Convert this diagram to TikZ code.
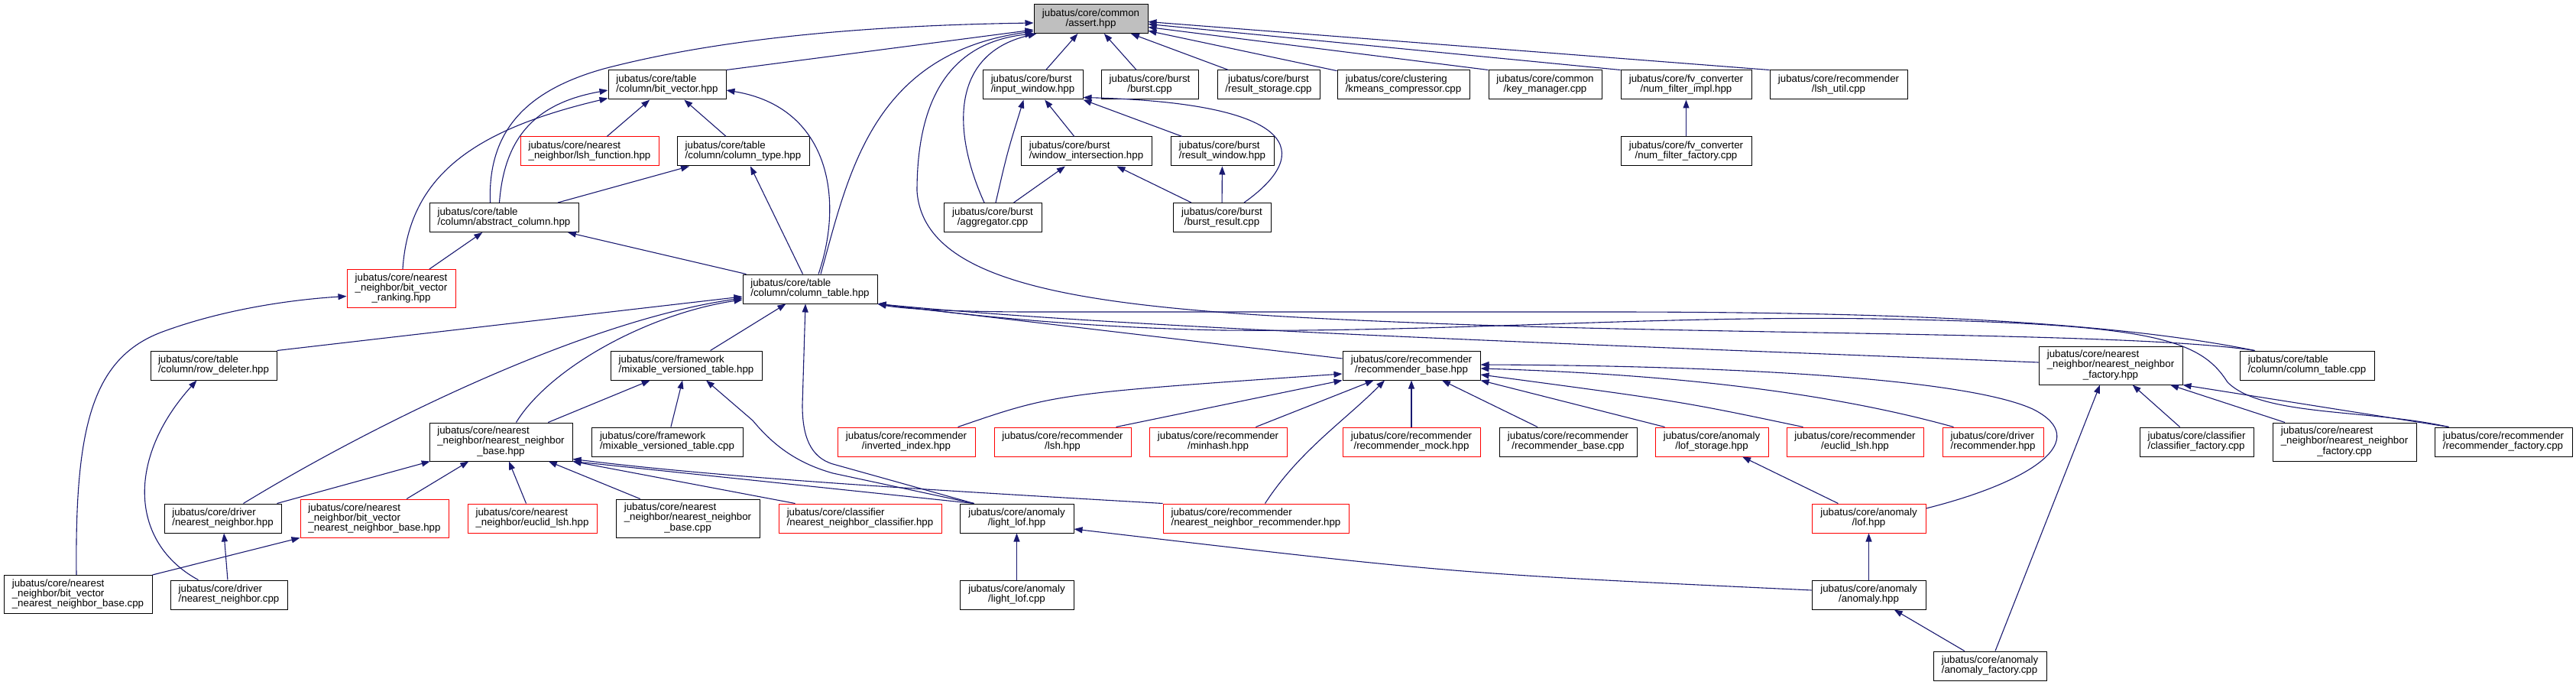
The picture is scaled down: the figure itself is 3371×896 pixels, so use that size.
\documentclass[tikz,border=0pt]{standalone}
\usepackage{fontspec}
\setmainfont{Liberation Sans}
\usetikzlibrary{arrows.meta}
\definecolor{edgeblue}{HTML}{191970}
\definecolor{boxgray}{HTML}{BFBFBF}
\newcommand{\lbltc}[3]{\begin{tabular}{@{}l@{}}#1\\#2\\\multicolumn{1}{@{}c@{}}{#3}\end{tabular}}

\begin{document}
\begin{tikzpicture}[x=1pt, y=-1pt,
  doc/.style={draw=black, line width=1pt, minimum height=38, inner xsep=3, inner ysep=2,
    font=\fontsize{13.3}{13}\selectfont, align=left},
  docred/.style={doc, draw=red},
  mid/.style={align=center},
  tall/.style={minimum height=50},
  dep/.style={draw=edgeblue, line width=1.1pt, -{Triangle[length=11pt,width=8pt]}}]
  \useasboundingbox (0,0) rectangle (3371,896);

  % files
  \node[doc, mid, fill=boxgray, minimum width=149] (assert) at (1427.5,24.5) {jubatus/core/common\\/assert.hpp};

  \node[doc, minimum width=154] (bitvec) at (873,111) {jubatus/core/table\\/column/bit\_vector.hpp};
  \node[doc, minimum width=131] (inwin) at (1351.5,111) {jubatus/core/burst\\/input\_window.hpp};
  \node[doc, mid, minimum width=127] (burstcpp) at (1504.5,111) {jubatus/core/burst\\/burst.cpp};
  \node[doc, mid, minimum width=134] (resstore) at (1660,111) {jubatus/core/burst\\/result\_storage.cpp};
  \node[doc, minimum width=173] (kmeans) at (1836.5,111) {jubatus/core/clustering\\/kmeans\_compressor.cpp};
  \node[doc, mid, minimum width=148] (keymgr) at (2022,111) {jubatus/core/common\\/key\_manager.cpp};
  \node[doc, mid, minimum width=171] (nfimpl) at (2206.5,111) {jubatus/core/fv\_converter\\/num\_filter\_impl.hpp};
  \node[doc, mid, minimum width=180] (lshutil) at (2406,111) {jubatus/core/recommender\\/lsh\_util.cpp};

  \node[docred, minimum width=181] (lshfunc) at (771.5,198) {jubatus/core/nearest\\\_neighbor/lsh\_function.hpp};
  \node[doc, minimum width=173] (coltype) at (972.5,198) {jubatus/core/table\\/column/column\_type.hpp};
  \node[doc, minimum width=171] (winint) at (1421.5,198) {jubatus/core/burst\\/window\_intersection.hpp};
  \node[doc, minimum width=135] (reswin) at (1599.5,198) {jubatus/core/burst\\/result\_window.hpp};
  \node[doc, mid, minimum width=171] (nffact) at (2206.5,198) {jubatus/core/fv\_converter\\/num\_filter\_factory.cpp};

  \node[doc, minimum width=195] (abscol) at (659.5,284.5) {jubatus/core/table\\/column/abstract\_column.hpp};
  \node[doc, mid, minimum width=128] (aggr) at (1299,284.5) {jubatus/core/burst\\/aggregator.cpp};
  \node[doc, mid, minimum width=128] (burstres) at (1599,284.5) {jubatus/core/burst\\/burst\_result.cpp};

  \node[docred, mid, tall, minimum width=142] (ranking) at (525,377.5) {jubatus/core/nearest\\\_neighbor/bit\_vector\\\_ranking.hpp};
  \node[doc, minimum width=176] (coltab) at (1060,378) {jubatus/core/table\\/column/column\_table.hpp};

  \node[doc, minimum width=165] (rowdel) at (279.5,478) {jubatus/core/table\\/column/row\_deleter.hpp};
  \node[doc, minimum width=198] (mvthpp) at (898,478) {jubatus/core/framework\\/mixable\_versioned\_table.hpp};
  \node[doc, mid, minimum width=180] (recbasehpp) at (1847,478) {jubatus/core/recommender\\/recommender\_base.hpp};
  \node[doc, tall, minimum width=188] (nnfacthpp) at (2762,478) {\lbltc{jubatus/core/nearest}{\_neighbor/nearest\_neighbor}{\_factory.hpp}};
  \node[doc, minimum width=176] (coltabcpp) at (3019,478) {jubatus/core/table\\/column/column\_table.cpp};

  \node[doc, tall, minimum width=187] (nnbasehpp) at (655.5,578) {\lbltc{jubatus/core/nearest}{\_neighbor/nearest\_neighbor}{\_base.hpp}};
  \node[doc, minimum width=198] (mvtcpp) at (873,578) {jubatus/core/framework\\/mixable\_versioned\_table.cpp};
  \node[docred, mid, minimum width=180] (invidx) at (1186,578) {jubatus/core/recommender\\/inverted\_index.hpp};
  \node[docred, mid, minimum width=179] (reclsh) at (1390.5,578) {jubatus/core/recommender\\/lsh.hpp};
  \node[docred, mid, minimum width=180] (minhash) at (1594,578) {jubatus/core/recommender\\/minhash.hpp};
  \node[docred, mid, minimum width=180] (recmock) at (1847,578) {jubatus/core/recommender\\/recommender\_mock.hpp};
  \node[doc, mid, minimum width=180] (recbasecpp) at (2052,578) {jubatus/core/recommender\\/recommender\_base.cpp};
  \node[docred, mid, minimum width=148] (lofstore) at (2240,578) {jubatus/core/anomaly\\/lof\_storage.hpp};
  \node[docred, mid, minimum width=179] (receuclid) at (2427.5,578) {jubatus/core/recommender\\/euclid\_lsh.hpp};
  \node[docred, minimum width=132] (drvrec) at (2608,578) {jubatus/core/driver\\/recommender.hpp};
  \node[doc, minimum width=149] (clsfact) at (2874.5,578) {jubatus/core/classifier\\/classifier\_factory.cpp};
  \node[doc, tall, minimum width=188] (nnfactcpp) at (3068,578) {\lbltc{jubatus/core/nearest}{\_neighbor/nearest\_neighbor}{\_factory.cpp}};
  \node[doc, minimum width=180] (recfact) at (3276,578) {jubatus/core/recommender\\/recommender\_factory.cpp};

  \node[doc, minimum width=153] (drvnnhpp) at (291.5,678) {jubatus/core/driver\\/nearest\_neighbor.hpp};
  \node[docred, tall, minimum width=194] (bvnnhpp) at (490,678) {jubatus/core/nearest\\\_neighbor/bit\_vector\\\_nearest\_neighbor\_base.hpp};
  \node[docred, minimum width=169] (nneuclid) at (696.5,678) {jubatus/core/nearest\\\_neighbor/euclid\_lsh.hpp};
  \node[doc, tall, minimum width=188] (nnbasecpp) at (900,678) {\lbltc{jubatus/core/nearest}{\_neighbor/nearest\_neighbor}{\_base.cpp}};
  \node[docred, minimum width=213] (nnclass) at (1125.5,678) {jubatus/core/classifier\\/nearest\_neighbor\_classifier.hpp};
  \node[doc, mid, minimum width=149] (lightlofhpp) at (1330.5,678) {jubatus/core/anomaly\\/light\_lof.hpp};
  \node[docred, minimum width=243] (nnrec) at (1643.5,678) {jubatus/core/recommender\\/nearest\_neighbor\_recommender.hpp};
  \node[docred, mid, minimum width=149] (lofhpp) at (2445.5,678) {jubatus/core/anomaly\\/lof.hpp};

  \node[doc, tall, minimum width=194] (bvnncpp) at (102,777.5) {jubatus/core/nearest\\\_neighbor/bit\_vector\\\_nearest\_neighbor\_base.cpp};
  \node[doc, minimum width=153] (drvnncpp) at (299.5,778) {jubatus/core/driver\\/nearest\_neighbor.cpp};
  \node[doc, mid, minimum width=149] (lightlofcpp) at (1330.5,778) {jubatus/core/anomaly\\/light\_lof.cpp};
  \node[doc, mid, minimum width=149] (anomhpp) at (2445.5,778) {jubatus/core/anomaly\\/anomaly.hpp};

  \node[doc, minimum width=148] (anomfact) at (2604,871) {jubatus/core/anomaly\\/anomaly\_factory.cpp};

  % includes of assert.hpp
  \draw[dep] (bitvec.north east) -- ([yshift=5]assert.south west);
  \draw[dep] ([xshift=-18]abscol.north) .. controls (638,170) and (690,118) .. (790,90) .. controls (950,48) and (1150,33) .. ([yshift=14]assert.south west);
  \draw[dep] ([xshift=14]coltab.north) .. controls (1110,230) and (1140,70) .. ([yshift=3]assert.south west);
  \draw[dep] ([xshift=20]coltabcpp.north west) .. controls (2800,435) and (2300,438) .. (1900,424) .. controls (1480,408) and (1210,390) .. (1200,250) .. controls (1200,120) and (1250,55) .. (assert.south west);
  \draw[dep] ([xshift=-11]aggr.north) .. controls (1245,170) and (1245,70) .. ([xshift=4]assert.south west);
  \draw[dep] (inwin) -- (assert);
  \draw[dep] (burstcpp) -- (assert);
  \draw[dep] (resstore) -- (assert);
  \draw[dep] (kmeans) -- (assert);
  \draw[dep] (keymgr.north west) -- ([yshift=-11]assert.east);
  \draw[dep] (nfimpl.north west) -- ([yshift=-7]assert.east);
  \draw[dep] (lshutil.north west) -- ([yshift=-4]assert.east);

  % burst
  \draw[dep] (winint) -- (inwin);
  \draw[dep] (reswin) -- (inwin.south east);
  \draw[dep] ([xshift=29]burstres.north) .. controls (1720,200) and (1700,135) .. ([yshift=3]inwin.south east);
  \draw[dep] (burstres) -- (winint);
  \draw[dep] (burstres) -- (reswin);
  \draw[dep] ([xshift=4]aggr.north) .. controls (1318,200) .. ([xshift=-12]inwin.south);
  \draw[dep] (aggr) -- (winint);
  \draw[dep] (nffact) -- (nfimpl);

  % table columns
  \draw[dep] (lshfunc) -- (bitvec);
  \draw[dep] (coltype) -- (bitvec);
  \draw[dep] ([xshift=-6]abscol.north) .. controls (660,180) and (700,135) .. ([yshift=-7]bitvec.west);
  \draw[dep] ([xshift=2]ranking.north) .. controls (535,230) and (620,170) .. ([yshift=2]bitvec.south west);
  \draw[dep] (abscol) -- (coltype);
  \draw[dep] (coltab) -- (coltype);
  \draw[dep] ([xshift=11]coltab.north) .. controls (1105,260) and (1085,140) .. ([yshift=-7]bitvec.east);
  \draw[dep] (coltab) -- (abscol);
  \draw[dep] (ranking) -- (abscol);
  \draw[dep] ([xshift=-2]bvnncpp.north) .. controls (98,560) and (120,470) .. (210,435) .. controls (290,405) and (380,392) .. ([yshift=-10]ranking.west);

  % column_table.hpp
  \draw[dep] (rowdel.north east) -- ([yshift=-10]coltab.west);
  \draw[dep] ([xshift=27]drvnnhpp.north) .. controls (480,560) and (760,420) .. ([yshift=-12]coltab.west);
  \draw[dep] ([xshift=20]nnbasehpp.north) .. controls (720,480) and (850,410) .. ([yshift=-14]coltab.west);
  \draw[dep] (mvthpp) -- (coltab);
  \draw[dep] ([xshift=19]lightlofhpp.north west) -- (1090,607) .. controls (1060,598) and (1050,570) .. (1050,530) -- ([xshift=-6]coltab.south);
  \draw[dep] ([yshift=9]recbasehpp.west) -- (coltab.south east);
  \draw[dep] ([yshift=4]nnfacthpp.west) .. controls (2200,455) and (1500,432) .. (coltab.south east);
  \draw[dep] ([xshift=20]coltabcpp.north west) .. controls (2750,418) and (2450,408) .. (2100,408) -- (1350,408) .. controls (1250,408) and (1180,404) .. (coltab.south east);
  \draw[dep] ([xshift=19]recfact.north west) .. controls (3100,535) and (2960,545) .. (2915,500) .. controls (2880,445) and (2820,425) .. (2500,418) .. controls (2200,410) and (1900,435) .. (1600,432) .. controls (1400,428) and (1250,410) .. (coltab.south east);

  % nearest_neighbor
  \draw[dep] ([xshift=-40]drvnncpp.north) .. controls (170,710) and (165,600) .. ([xshift=-22]rowdel.south);
  \draw[dep] (nnbasehpp) -- (mvthpp);
  \draw[dep] (mvtcpp) -- (mvthpp);
  \draw[dep] ([xshift=19]lightlofhpp.north west) -- (1090,619) .. controls (1040,605) and (1010,580) .. (985,550) -- ([xshift=26]mvthpp.south);
  \draw[dep] ([xshift=19]lightlofhpp.north west) -- (nnbasehpp.south east);
  \draw[dep] (nnrec.north west) .. controls (1200,640) and (950,625) .. ([yshift=3]nnbasehpp.south east);
  \draw[dep] ([xshift=22]nnclass.north west) -- (nnbasehpp.south east);
  \draw[dep] (nnbasecpp) -- (nnbasehpp);
  \draw[dep] (nneuclid) -- (nnbasehpp);
  \draw[dep] (bvnnhpp) -- (nnbasehpp);
  \draw[dep] (drvnnhpp) -- (nnbasehpp);
  \draw[dep] (drvnncpp) -- (drvnnhpp);
  \draw[dep] (bvnncpp.north east) -- (bvnnhpp.south west);
  \draw[dep] (lightlofcpp) -- (lightlofhpp);

  % recommender_base.hpp
  \draw[dep] ([xshift=-23]invidx.north east) .. controls (1380,515) .. ([yshift=-11]recbasehpp.west);
  \draw[dep] ([xshift=70]reclsh.north) -- (recbasehpp.south west);
  \draw[dep] (minhash) -- (recbasehpp);
  \draw[dep] ([xshift=12]nnrec.north) .. controls (1700,590) and (1760,550) .. ([xshift=-35]recbasehpp.south);
  \draw[dep] (recmock) -- (recbasehpp);
  \draw[dep] (recbasecpp) -- (recbasehpp);
  \draw[dep] ([xshift=13]lofstore.north west) -- (recbasehpp.south east);
  \draw[dep] ([xshift=22]receuclid.north west) .. controls (2200,525) .. ([yshift=-12]recbasehpp.east);
  \draw[dep] ([xshift=15]drvrec.north west) .. controls (2400,515) and (2200,490) .. ([yshift=-4]recbasehpp.east);
  \draw[dep] ([yshift=13]lofhpp.east) .. controls (2660,630) and (2740,575) .. (2660,535) .. controls (2560,490) and (2200,478) .. ([yshift=1]recbasehpp.east);

  % anomaly and factories
  \draw[dep] (lofhpp) -- (lofstore);
  \draw[dep] (anomhpp) -- (lofhpp);
  \draw[dep] ([yshift=6]anomhpp.west) .. controls (1900,750) .. ([yshift=-14]lightlofhpp.east);
  \draw[dep] (anomfact) -- (anomhpp);
  \draw[dep] ([xshift=7]anomfact.north) -- ([xshift=-14]nnfacthpp.south);
  \draw[dep] (clsfact) -- (nnfacthpp);
  \draw[dep] (nnfactcpp) -- (nnfacthpp);
  \draw[dep] ([xshift=19]recfact.north west) -- (nnfacthpp.south east);
\end{tikzpicture}
\end{document}
